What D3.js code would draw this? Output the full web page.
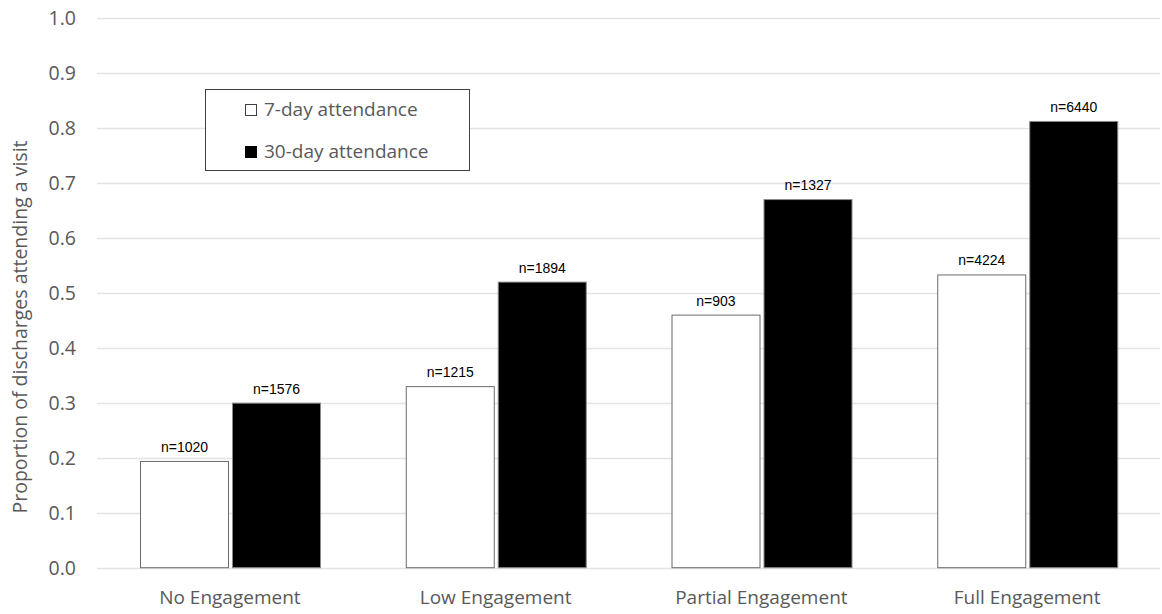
<!DOCTYPE html>
<html>
<head>
<meta charset="utf-8">
<script src="https://cdn.jsdelivr.net/npm/d3@7"></script>
<style>
  html, body { margin: 0; padding: 0; background: #fff; }
  svg { display: block; }
</style>
</head>
<body>
<svg id="chart" width="1162" height="614"></svg>
<script>
// Engagement groups along the x axis
const categories = ["No Engagement", "Low Engagement", "Partial Engagement", "Full Engagement"];
// Series names
const seriesNames = ["7-day attendance", "30-day attendance"];
// Proportion attending a visit, per group
const sevenDay = [0.194, 0.330, 0.460, 0.533];
const thirtyDay = [0.300, 0.520, 0.670, 0.812];
// Number of discharges shown above each bar
const sevenDayN = ["n=1020", "n=1215", "n=903", "n=4224"];
const thirtyDayN = ["n=1576", "n=1894", "n=1327", "n=6440"];
// Y axis ticks
const yTicks = [0, 0.1, 0.2, 0.3, 0.4, 0.5, 0.6, 0.7, 0.8, 0.9, 1.0];

const svg = d3.select("#chart");
const plot = { left: 97, right: 1160, top: 17.5, bottom: 567.7 };
const grey = "#595959";
const uiFont = "'Open Sans', sans-serif";

const y = d3.scaleLinear().domain([0, 1]).range([plot.bottom, plot.top]);
const x0 = d3.scaleBand().domain(categories).range([plot.left, plot.right]).padding(0);
const x1 = d3.scaleBand().domain(seriesNames).range([43, 224]).paddingInner(0.0326).paddingOuter(0);

// Horizontal gridlines
svg.append("g")
  .selectAll("line")
  .data(yTicks)
  .join("line")
  .attr("x1", plot.left)
  .attr("x2", plot.right)
  .attr("y1", d => Math.round(y(d)) + 0.5)
  .attr("y2", d => Math.round(y(d)) + 0.5)
  .attr("stroke", "#e3e3e3")
  .attr("stroke-width", 1.3);

// Y tick labels
svg.append("g")
  .selectAll("text")
  .data(yTicks)
  .join("text")
  .attr("x", 76)
  .attr("y", d => y(d))
  .attr("dy", "0.36em")
  .attr("text-anchor", "end")
  .attr("font-family", uiFont)
  .attr("font-size", 19.5)
  .attr("fill", grey)
  .text(d => d3.format(".1f")(d));

// Y axis title
svg.append("text")
  .attr("transform", "translate(27,327) rotate(-90)")
  .attr("text-anchor", "middle")
  .attr("font-family", uiFont)
  .attr("font-size", 19.5)
  .attr("fill", grey)
  .text("Proportion of discharges attending a visit");

// Bars
const rows = categories.map((c, i) => ({
  cat: c,
  values: [
    { s: seriesNames[0], v: sevenDay[i], n: sevenDayN[i] },
    { s: seriesNames[1], v: thirtyDay[i], n: thirtyDayN[i] }
  ]
}));

const fills = { "7-day attendance": "#ffffff", "30-day attendance": "#000000" };
const strokes = { "7-day attendance": "#6b6b6b", "30-day attendance": "#8a8a8a" };

const groups = svg.append("g")
  .selectAll("g")
  .data(rows)
  .join("g")
  .attr("transform", d => `translate(${x0(d.cat)},0)`);

groups.selectAll("rect")
  .data(d => d.values)
  .join("rect")
  .attr("x", d => x1(d.s) + 0.5)
  .attr("y", d => y(d.v) + 0.5)
  .attr("width", x1.bandwidth() - 1)
  .attr("height", d => y(0) - y(d.v) - 0.5)
  .attr("fill", d => fills[d.s])
  .attr("stroke", d => strokes[d.s])
  .attr("stroke-width", 1);

groups.selectAll("text")
  .data(d => d.values)
  .join("text")
  .attr("x", d => x1(d.s) + x1.bandwidth() / 2)
  .attr("y", d => y(d.v) - 9)
  .attr("text-anchor", "middle")
  .attr("font-family", "'Liberation Sans', Arial, sans-serif")
  .attr("font-size", 14)
  .attr("fill", "#000")
  .text(d => d.n);

// X category labels
svg.append("g")
  .selectAll("text")
  .data(categories)
  .join("text")
  .attr("x", d => x0(d) + x0.bandwidth() / 2)
  .attr("y", 604)
  .attr("text-anchor", "middle")
  .attr("font-family", uiFont)
  .attr("font-size", 19)
  .attr("fill", grey)
  .text(d => d);

// Legend
const legend = svg.append("g");
legend.append("rect")
  .attr("x", 205.5).attr("y", 89.5)
  .attr("width", 264).attr("height", 81)
  .attr("fill", "#fff")
  .attr("stroke", "#404040")
  .attr("stroke-width", 1);

const legendRows = legend.selectAll("g.item")
  .data(seriesNames)
  .join("g")
  .attr("class", "item")
  .attr("transform", (d, i) => `translate(0,${i === 0 ? 116 : 158})`);

legendRows.append("rect")
  .attr("x", 245.5).attr("y", -11.5)
  .attr("width", 11).attr("height", 11)
  .attr("fill", d => fills[d])
  .attr("stroke", d => d === seriesNames[0] ? "#404040" : "#000");

legendRows.append("text")
  .attr("x", 264)
  .attr("y", 0)
  .attr("font-family", uiFont)
  .attr("font-size", 19)
  .attr("fill", grey)
  .text(d => d);
</script>
</body>
</html>
